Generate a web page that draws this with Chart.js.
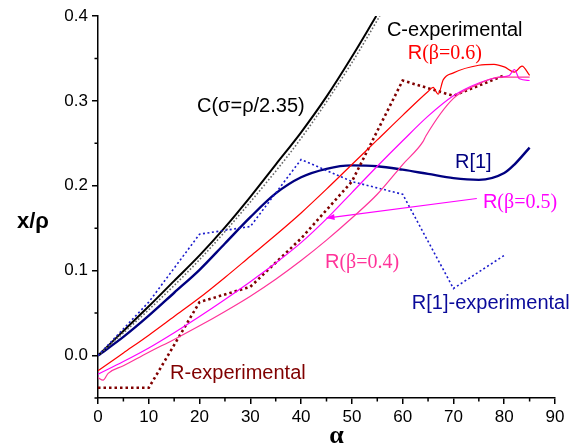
<!DOCTYPE html>
<html>
<head>
<meta charset="utf-8">
<script src="https://cdn.jsdelivr.net/npm/chart.js@4.4.1/dist/chart.umd.min.js"></script>
<style>
  html, body { margin: 0; padding: 0; background: #fff; }
  #wrap { width: 583px; height: 443px; }
</style>
</head>
<body>
<div id="wrap"><canvas id="c" width="583" height="443"></canvas></div>
<script>
// ── DATA ──────────────────────────────────────────────────────────────────────
const alphaC   = [0, 5, 10, 15, 20, 25, 30, 35, 40, 45, 50, 54.8];
const valC     = [0, 0.029, 0.058, 0.088, 0.118, 0.151, 0.187, 0.225, 0.263, 0.305, 0.352, 0.400];

const alphaCexp = [0, 10, 20, 30, 40, 50, 55.5];
const valCexp   = [0, 0.054, 0.113, 0.181, 0.256, 0.345, 0.400];

const alphaR1 = [0, 5, 10, 15, 20, 25, 30, 35, 40, 45, 50, 55, 60, 65, 70, 75, 80, 82, 85];
const valR1   = [0, 0.022, 0.047, 0.074, 0.101, 0.132, 0.163, 0.191, 0.210, 0.220, 0.224, 0.223, 0.219, 0.214, 0.209, 0.207, 0.215, 0.225, 0.245];

const alphaR1exp = [0, 10, 20, 30, 40, 50, 60, 70, 80];
const valR1exp   = [0, 0.063, 0.143, 0.152, 0.231, 0.205, 0.190, 0.079, 0.118];

const alphaRexp = [0, 10, 20, 30, 40, 50, 60, 70, 80];
const valRexp   = [-0.038, -0.038, 0.063, 0.081, 0.138, 0.205, 0.324, 0.306, 0.330];

const alphaB06 = [0, 5, 10, 15, 20, 25, 30, 35, 40, 45, 50, 55, 60, 65, 66, 67, 68, 70, 75, 78, 80, 82, 83.5, 85];
const valB06   = [-0.018, 0.003, 0.024, 0.046, 0.068, 0.092, 0.117, 0.142, 0.168, 0.196, 0.225, 0.254, 0.283, 0.311, 0.316, 0.308, 0.325, 0.333, 0.342, 0.343, 0.340, 0.334, 0.341, 0.330];

const alphaB05 = [0, 5, 10, 15, 20, 25, 30, 35, 40, 45, 50, 55, 60, 65, 70, 75, 79, 81, 82, 83, 85];
const valB05   = [-0.022, -0.007, 0.009, 0.027, 0.046, 0.066, 0.087, 0.109, 0.133, 0.161, 0.192, 0.223, 0.253, 0.282, 0.306, 0.321, 0.328, 0.330, 0.337, 0.326, 0.324];

const alphaB04 = [0, 1, 2, 5, 10, 15, 20, 25, 30, 35, 40, 45, 50, 55, 60, 64, 64.6, 70, 75, 78, 80, 85];
const valB04   = [-0.026, -0.029, -0.021, -0.012, 0.004, 0.019, 0.035, 0.052, 0.070, 0.090, 0.112, 0.136, 0.162, 0.190, 0.225, 0.252, 0.259, 0.303, 0.320, 0.327, 0.328, 0.328];

// arrow from the R(β=0.5) label to its curve
const alphaArrow = [74.6, 45];
const valArrow   = [0.185, 0.162];

const xTicks = [0, 10, 20, 30, 40, 50, 60, 70, 80, 90];
const yTicks = [0.0, 0.1, 0.2, 0.3, 0.4];
const xMinor = [5, 15, 25, 35, 45, 55, 65, 75, 85];
const yMinor = [-0.05, 0.05, 0.15, 0.25, 0.35];

const pts = (xs, ys) => xs.map((x, i) => ({ x, y: ys[i] }));

// ── LABELS (anchored in data units) ───────────────────────────────────────────
const SANS = "'Liberation Sans', Arial, sans-serif";
const SERIF = "'Liberation Serif', 'Times New Roman', serif";
const curveLabels = [
  { a: 19.5, v: 0.287, parts: [['C(σ=ρ/2.35)', SANS]], color: '#000' },
  { a: 56.9, v: 0.377, parts: [['C-experimental', SANS]], color: '#000' },
  { a: 61.0, v: 0.349, parts: [['R', SANS], ['(β=0.6)', SERIF]], color: '#ff0000' },
  { a: 70.3, v: 0.221, parts: [['R[1]', SANS]], color: '#000080' },
  { a: 75.8, v: 0.174, parts: [['R', SANS], ['(β=0.5)', SERIF]], color: '#ff00ff' },
  { a: 44.7, v: 0.103, parts: [['R', SANS], ['(β=0.4)', SERIF]], color: '#ff3399' },
  { a: 61.8, v: 0.055, parts: [['R[1]-experimental', SANS]], color: '#0a0a9a' },
  { a: 14.2, v: -0.028, parts: [['R-experimental', SANS]], color: '#800000' },
];

const annotPlugin = {
  id: 'annot',
  afterDraw(chart) {
    const { ctx, scales: { x, y } } = chart;
    ctx.save();
    // minor ticks
    ctx.strokeStyle = '#000';
    ctx.lineWidth = 1.5;
    ctx.beginPath();
    xMinor.forEach(v => { const px = x.getPixelForValue(v); ctx.moveTo(px, y.bottom); ctx.lineTo(px, y.bottom + 3.5); });
    yMinor.forEach(v => { const py = y.getPixelForValue(v); ctx.moveTo(x.left, py); ctx.lineTo(x.left - 3.5, py); });
    ctx.stroke();

    // arrow head at the end of the pointer line
    const x0 = x.getPixelForValue(alphaArrow[0]), y0 = y.getPixelForValue(valArrow[0]);
    const x1 = x.getPixelForValue(alphaArrow[1]), y1 = y.getPixelForValue(valArrow[1]);
    const ang = Math.atan2(y1 - y0, x1 - x0);
    ctx.fillStyle = '#ff00ff';
    ctx.beginPath();
    ctx.moveTo(x1, y1);
    ctx.lineTo(x1 - 8 * Math.cos(ang) + 3 * Math.sin(ang), y1 - 8 * Math.sin(ang) - 3 * Math.cos(ang));
    ctx.lineTo(x1 - 8 * Math.cos(ang) - 3 * Math.sin(ang), y1 - 8 * Math.sin(ang) + 3 * Math.cos(ang));
    ctx.closePath();
    ctx.fill();

    // curve labels
    ctx.textBaseline = 'alphabetic';
    ctx.textAlign = 'left';
    curveLabels.forEach(l => {
      let px = x.getPixelForValue(l.a);
      const py = y.getPixelForValue(l.v);
      ctx.fillStyle = l.color;
      l.parts.forEach(([t, f]) => {
        ctx.font = '20px ' + f;
        ctx.fillText(t, px, py);
        px += ctx.measureText(t).width;
      });
    });

    // axis titles
    ctx.fillStyle = '#000';
    ctx.font = 'bold 22px ' + SANS;
    ctx.fillText('x/ρ', 17, 228);
    ctx.font = 'bold 26px ' + SERIF;
    ctx.textAlign = 'center';
    ctx.fillText('α', (x.left + x.right) / 2 + 10, 443);
    ctx.restore();
  }
};

const line = (data, color, width, dash, smooth) => ({
  data, borderColor: color, borderWidth: width, borderDash: dash || [],
  showLine: true, pointRadius: 0, fill: false,
  tension: 0, cubicInterpolationMode: smooth ? 'monotone' : 'default',
});

new Chart(document.getElementById('c'), {
  type: 'scatter',
  data: {
    datasets: [
      line(pts(alphaB04, valB04), '#ff3399', 1.2, null, true),
      line(pts(alphaB05, valB05), '#ff00ff', 1.2, null, true),
      line(pts(alphaB06, valB06), '#ff0000', 1.2, null, true),
      line(pts(alphaArrow, valArrow), '#ff00ff', 1.2, null, false),
      line(pts(alphaRexp, valRexp), '#800000', 2.6, [2.5, 3], false),
      line(pts(alphaR1exp, valR1exp), '#1a1acc', 1.6, [2, 2.5], false),
      line(pts(alphaCexp, valCexp), '#666', 1.6, [1.6, 2], true),
      line(pts(alphaC, valC), '#000', 2, null, true),
      line(pts(alphaR1, valR1), '#000080', 2.4, null, true),
    ]
  },
  options: {
    responsive: false,
    animation: false,
    layout: { padding: { left: 0, right: 28, top: 16, bottom: 0 } },
    plugins: { legend: { display: false }, tooltip: { enabled: false } },
    scales: {
      x: {
        type: 'linear', min: 0, max: 90,
        afterBuildTicks: s => { s.ticks = xTicks.map(v => ({ value: v })); },
        afterFit: s => { s.height = 45; },
        grid: { drawOnChartArea: false, drawTicks: true, tickLength: 6, color: '#000', lineWidth: 1.5 },
        border: { display: true, color: '#000', width: 1.5 },
        ticks: { color: '#000', padding: 3, maxRotation: 0, font: { family: SANS, size: 17 } },
      },
      y: {
        type: 'linear', min: -0.05, max: 0.4,
        afterBuildTicks: s => { s.ticks = yTicks.map(v => ({ value: v })); },
        afterFit: s => { s.width = 98; },
        grid: { drawOnChartArea: false, drawTicks: true, tickLength: 6, color: '#000', lineWidth: 1.5 },
        border: { display: true, color: '#000', width: 1.5 },
        ticks: { color: '#000', padding: 4, font: { family: SANS, size: 17 }, callback: v => v.toFixed(1) },
      }
    }
  },
  plugins: [annotPlugin]
});
</script>
</body>
</html>
